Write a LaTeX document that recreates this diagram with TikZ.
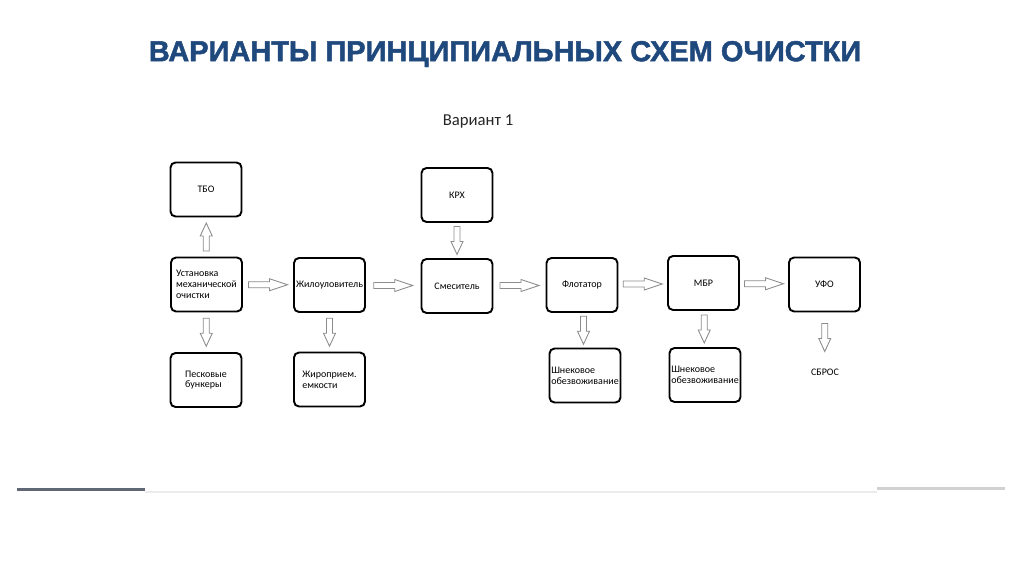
\documentclass[tikz,border=0pt]{standalone}
\usepackage{fontspec}
\setmainfont{Carlito}
\newfontfamily\headfont[FakeBold=1.6]{Liberation Sans}
\usetikzlibrary{calc}
\definecolor{headblue}{RGB}{31,73,125}
\definecolor{rulegray}{RGB}{95,104,116}

% hollow block arrows between two boxes
\newcommand{\hblk}[2]{\draw[blk] ($(#1.east)!.5!(#2.west)$) ++(-19.5,-3) -- ++(21,0) -- ++(0,-3) -- ++(18,6) -- ++(-18,6) -- ++(0,-3) -- ++(-21,0) -- cycle;}
\newcommand{\vblk}[3][1]{\draw[blk] ($(#2)!.5!(#3)$) ++(-3,{-14*(#1)}) -- ++(0,{15*(#1)}) -- ++(-3,0) -- ++(6,{13*(#1)}) -- ++(6,{-13*(#1)}) -- ++(-3,0) -- ++(0,{-15*(#1)}) -- cycle;}

\begin{document}
\begin{tikzpicture}[x=0.02cm, y=-0.02cm,
  box/.style={draw, line width=1.1pt, rounded corners=1mm, minimum width=14.2mm, minimum height=10.8mm,
    inner sep=1pt, align=left, font=\fontsize{5.7}{6.1}\selectfont},
  blk/.style={draw=black!45, fill=white, line width=0.5pt}]
  \fill[white] (0,0) rectangle (1024,574);
  \useasboundingbox (0,0) rectangle (1024,574);
  \node[font=\headfont\bfseries\fontsize{16.5}{20}\selectfont, text=headblue] (title) at (505,54) {ВАРИАНТЫ ПРИНЦИПИАЛЬНЫХ СХЕМ ОЧИСТКИ};
  \node[font=\fontsize{9.5}{11}\selectfont, text=black!85] (var) at (478,121) {Вариант 1};
  \node[box] (tbo)     at (206,189.5) {ТБО};
  \node[box] (ustmech) at (206.5,284.5) {Установка\\механической\\очистки};
  \node[box] (pesok)   at (206,380) {Песковые\\бункеры};
  \node[box] (zhil)    at (329.5,285) {Жилоуловитель};
  \node[box] (zhirem)  at (329.5,379.5) {Жироприем.\\емкости};
  \node[box] (krh)     at (457,195) {КРХ};
  \node[box] (smes)    at (457,286) {Смеситель};
  \node[box] (flot)    at (582,285) {Флотатор};
  \node[box] (shnek1)  at (585,375.5) {Шнековое\\обезвоживание};
  \node[box] (mbr)     at (703.5,283) {МБР};
  \node[box] (shnek2)  at (705,375) {Шнековое\\обезвоживание};
  \node[box] (ufo)     at (824.5,284.5) {УФО};
  \node[font=\fontsize{5.7}{6.1}\selectfont] (sbros) at (825,372) {СБРОС};
  \hblk{ustmech}{zhil}
  \hblk{zhil}{smes}
  \hblk{smes}{flot}
  \hblk{flot}{mbr}
  \hblk{mbr}{ufo}
  \vblk[-1]{ustmech.north}{tbo.south}
  \vblk{ustmech.south}{pesok.north}
  \vblk{zhil.south}{zhirem.north}
  \vblk{krh.south}{smes.north}
  \vblk{flot.south}{shnek1.north}
  \vblk{mbr.south}{shnek2.north}
  \vblk{ufo.south}{sbros.north}
  % rule at the bottom
  \draw[rulegray, line width=1.5pt] (17,489.5) -- (145,489.5);
  \draw[black!8, line width=0.6pt] (145,492) -- (877,492);
  \draw[black!18, line width=1.3pt] (877,488.5) -- (1005,488.5);
\end{tikzpicture}
\end{document}
